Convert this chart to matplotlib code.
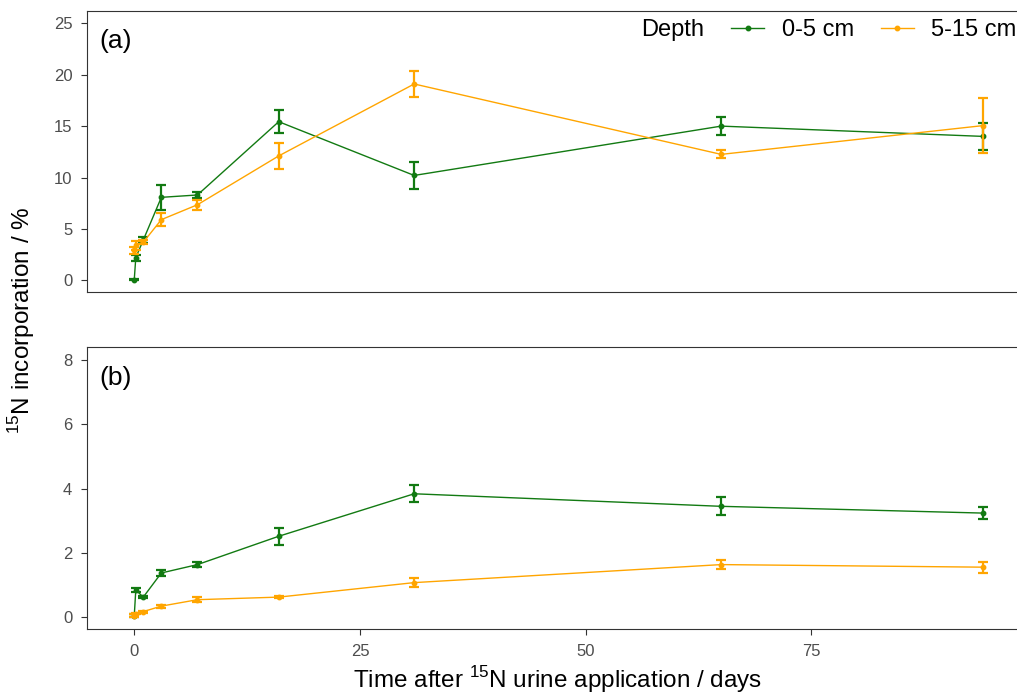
import matplotlib
matplotlib.use('Agg')
import matplotlib.pyplot as plt

plt.rcParams['font.family'] = ['Liberation Sans', 'DejaVu Sans']
plt.rcParams['mathtext.fontset'] = 'custom'
plt.rcParams['mathtext.rm'] = 'Liberation Sans'

# sampling times (days after urine application)
days = [0, 0.17, 1, 3, 7, 16, 31, 65, 94]

# panel (a)
a_top = [0.05, 2.2, 3.92, 8.07, 8.3, 15.43, 10.2, 15.0, 14.0]
a_top_err = [0.05, 0.28, 0.32, 1.23, 0.25, 1.13, 1.3, 0.85, 1.3]
a_sub = [2.9, 3.4, 3.7, 5.9, 7.35, 12.1, 19.1, 12.25, 15.05]
a_sub_err = [0.3, 0.45, 0.2, 0.65, 0.5, 1.3, 1.3, 0.4, 2.65]

# panel (b)
b_top = [0.05, 0.85, 0.63, 1.38, 1.64, 2.52, 3.84, 3.45, 3.24]
b_top_err = [0.05, 0.05, 0.04, 0.1, 0.08, 0.27, 0.26, 0.28, 0.19]
b_sub = [0.05, 0.12, 0.18, 0.35, 0.55, 0.63, 1.08, 1.64, 1.56]
b_sub_err = [0.04, 0.03, 0.03, 0.05, 0.07, 0.04, 0.15, 0.13, 0.17]

depths = ['0-5 cm', '5-15 cm']
colors = ['#127a12', '#ffa500']

W, H = 1017, 695
fig = plt.figure(figsize=(W / 100, H / 100), dpi=100)

left = 87.3 / W
width = (1030 - 87.3) / W
ax1 = fig.add_axes([left, (H - 292.3) / H, width, 281.6 / H])
ax2 = fig.add_axes([left, (H - 629.3) / H, width, 282 / H])


def draw(ax, top, top_err, sub, sub_err):
    for y, e, c, lab in [(top, top_err, colors[0], depths[0]),
                         (sub, sub_err, colors[1], depths[1])]:
        ax.plot(days, y, color=c, lw=1.0, marker='o', ms=3.2, label=lab, zorder=3)
        ax.errorbar(days, y, yerr=e, fmt='none', ecolor=c, elinewidth=1.6,
                    capsize=3.3, capthick=1.6, zorder=3)
    ax.set_xlim(-5.2, 99.2)
    for s in ax.spines.values():
        s.set_color('#333333')
        s.set_linewidth(0.8)
    ax.spines['right'].set_visible(False)
    ax.tick_params(direction='out', length=4.3, width=0.8, color='#333333',
                   labelcolor='#4d4d4d', labelsize=12, pad=6.5)


draw(ax1, a_top, a_top_err, a_sub, a_sub_err)
draw(ax2, b_top, b_top_err, b_sub, b_sub_err)

ax1.set_ylim(-1.17, 26.23)
ax1.set_yticks([0, 5, 10, 15, 20, 25])
ax1.set_xticks([])

ax2.set_ylim(-0.37, 8.39)
ax2.set_yticks([0, 2, 4, 6, 8])
ax2.set_xticks([0, 25, 50, 75])

ax1.text(0.013, 0.935, '(a)', transform=ax1.transAxes, fontsize=19, va='top')
ax2.text(0.013, 0.935, '(b)', transform=ax2.transAxes, fontsize=19, va='top')

# legend, horizontal, inside panel (a)
fig.text(641 / W, (H - 30) / H, 'Depth', fontsize=17, va='center', ha='left')
ax1.legend(loc='center left', bbox_to_anchor=(731 / W, (H - 30) / H),
           bbox_transform=fig.transFigure, ncol=2, frameon=False, fontsize=17,
           handlelength=1.4, handletextpad=0.75, columnspacing=1.13,
           borderpad=0, borderaxespad=0)

fig.text(22 / W, (H - 320) / H, r'$^{15}$N incorporation / %', rotation=90,
         fontsize=17.5, ha='center', va='center')
fig.text(558 / W, (H - 680) / H, r'Time after $^{15}$N urine application / days',
         fontsize=17.5, ha='center', va='center')

fig.savefig('out.png', dpi=100)
